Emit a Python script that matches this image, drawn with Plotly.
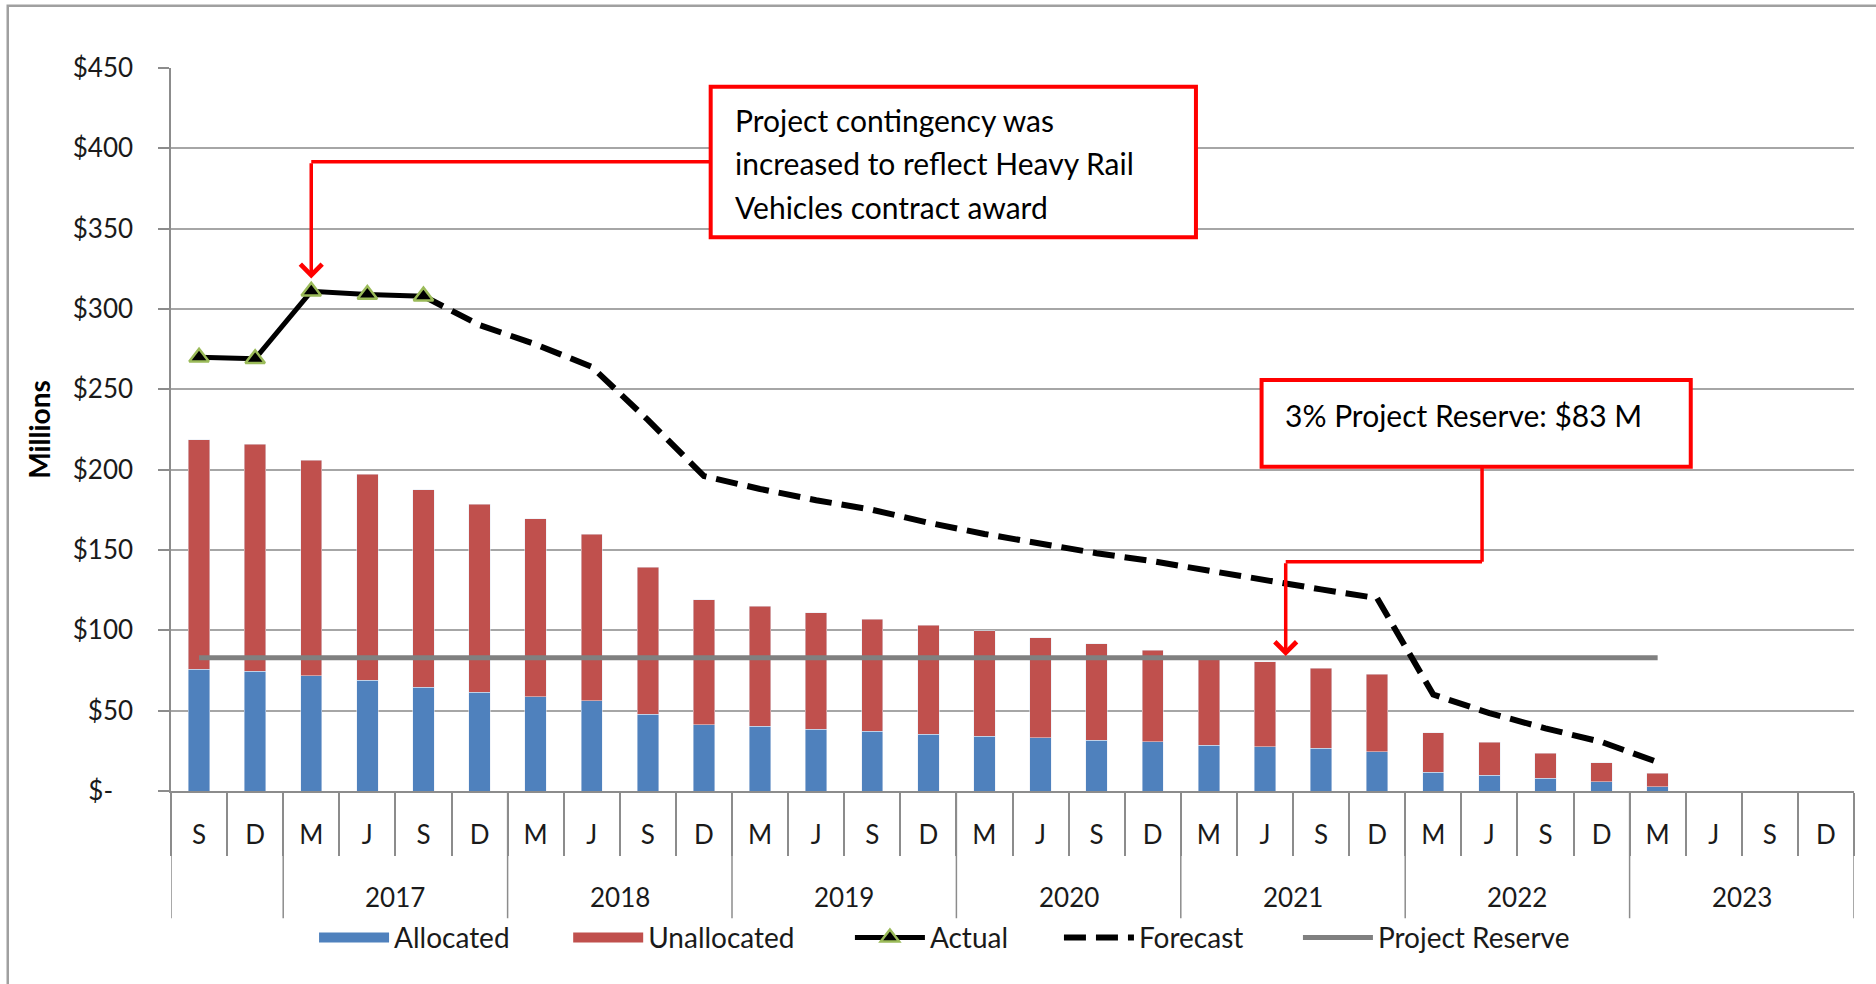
"""Project contingency drawdown: allocated / unallocated bars with actual and forecast lines."""

import plotly.graph_objects as go

# ---- data -----------------------------------------------------------------
months = ["S", "D"] + ["M", "J", "S", "D"] * 7
years = ["", ""] + ["2017"] * 4 + ["2018"] * 4 + ["2019"] * 4 + ["2020"] * 4 \
    + ["2021"] * 4 + ["2022"] * 4 + ["2023"] * 4

allocated = [75.7, 74.6, 71.6, 68.8, 64.6, 61.6, 58.6, 56.1, 47.9, 41.2,
             40.3, 38.5, 37.3, 35.4, 34.2, 33.3, 31.5, 30.6, 28.6, 27.6,
             26.6, 24.5, 11.8, 9.8, 7.9, 5.8, 2.7]
unallocated = [142.8, 141.1, 134.4, 128.4, 122.8, 116.8, 111.0, 103.8, 91.4, 77.7,
               74.8, 72.5, 69.7, 67.9, 65.4, 62.2, 60.0, 57.0, 55.4, 52.7,
               49.9, 48.1, 24.5, 20.5, 15.6, 11.8, 8.3]
actual = [270, 269, 311, 309, 308]
forecast_start = 4
forecast = [308, 290, 278, 264, 231, 196, 188, 181, 175, 167, 160, 154,
            148, 143, 137, 131, 125.5, 120, 60, 48.5, 39, 30.5, 18]
reserve = 83

y_ticks = [0, 50, 100, 150, 200, 250, 300, 350, 400, 450]
y_ticktext = ["$-\u00a0\u00a0\u00a0"] + [f"${v}" for v in y_ticks[1:]]

BLUE = "#4F81BD"
RED = "#C0504D"
GREEN = "#9BBB59"
GREY = "#808080"
AXIS = "#8C8C8C"
GRID = "#A6A6A6"
FONT = "Lato, 'Open Sans', sans-serif"

periods = [f"{y or '2016'} {m}" for y, m in zip(years, months)]
n_bars = len(allocated)

fig = go.Figure()
fig.add_trace(go.Bar(x=periods[:n_bars], y=allocated, name="Allocated",
                     marker_color=BLUE, showlegend=False))
fig.add_trace(go.Bar(x=periods[:n_bars], y=unallocated, name="Unallocated",
                     marker_color=RED, showlegend=False))
fig.add_trace(go.Scatter(x=periods[:n_bars], y=[reserve] * n_bars, mode="lines",
                         name="Project Reserve", line=dict(color=GREY, width=5),
                         legend="legend5"))
fig.add_trace(go.Scatter(x=periods[forecast_start:forecast_start + len(forecast)],
                         y=forecast, mode="lines", name="Forecast",
                         line=dict(color="black", width=6, dash="22px,10px"),
                         legend="legend4"))
fig.add_trace(go.Scatter(x=periods[:len(actual)], y=actual, mode="lines+markers",
                         name="Actual", line=dict(color="black", width=5),
                         marker=dict(symbol="triangle-up", size=17, color="black",
                                     line=dict(color=GREEN, width=2.5)),
                         legend="legend3"))
# wide legend swatches for the stacked bars
for name, color, leg in [("Allocated", BLUE, "legend"), ("Unallocated", RED, "legend2")]:
    fig.add_trace(go.Scatter(x=[None], y=[None], mode="lines", name=name,
                             line=dict(color=color, width=17), legend=leg))

# year dividers and labels below the month labels
bounds = [-0.5] + [i - 0.5 for i in range(1, len(years)) if years[i] != years[i - 1]] \
    + [len(years) - 0.5]
for b in bounds:
    fig.add_shape(type="line", xref="x", yref="paper", x0=b, x1=b, y0=0, y1=-0.176,
                  line=dict(color=AXIS, width=1.5))
for lo, hi in zip(bounds[:-1], bounds[1:]):
    label = years[int(lo + 0.5)]
    if label:
        fig.add_annotation(x=(lo + hi) / 2, y=-0.147, xref="x", yref="paper",
                           yanchor="middle", text=label, showarrow=False,
                           font=dict(size=26, color="#1a1a1a", family=FONT))

# callout 1: contingency increase
fig.add_shape(type="rect", x0=9.12, x1=17.77, y0=344.6, y1=438.3,
              line=dict(color="#FF0000", width=4), fillcolor="white")
for txt, yy in [("Project contingency was", 417.5),
                ("increased to reflect Heavy Rail", 390.8),
                ("Vehicles contract award", 363.4)]:
    fig.add_annotation(x=9.52, y=yy, text=txt, showarrow=False, xanchor="left",
                       font=dict(size=30, color="black", family=FONT))
fig.add_shape(type="line", x0=2, x1=9.12, y0=391.6, y1=391.6,
              line=dict(color="#FF0000", width=3.5))
fig.add_annotation(x=2, y=319, ax=2, ay=391.6, axref="x", ayref="y", text="",
                   showarrow=True, arrowhead=4, arrowsize=1.2, arrowwidth=3.5,
                   arrowcolor="#FF0000", standoff=0)

# callout 2: project reserve
fig.add_shape(type="rect", x0=18.94, x1=26.59, y0=201.8, y1=255.8,
              line=dict(color="#FF0000", width=4), fillcolor="white")
fig.add_annotation(x=19.33, y=234, text="3% Project Reserve: $83 M", showarrow=False,
                   xanchor="left", font=dict(size=30, color="black", family=FONT))
fig.add_shape(type="line", x0=22.87, x1=22.87, y0=201.8, y1=142.7,
              line=dict(color="#FF0000", width=3.5))
fig.add_shape(type="line", x0=19.37, x1=22.87, y0=142.7, y1=142.7,
              line=dict(color="#FF0000", width=3.5))
fig.add_annotation(x=19.37, y=84, ax=19.37, ay=142.7, axref="x", ayref="y", text="",
                   showarrow=True, arrowhead=4, arrowsize=1.2, arrowwidth=3.5,
                   arrowcolor="#FF0000", standoff=0)

# outer frame of the pasted picture
fig.add_shape(type="rect", xref="paper", yref="paper", x0=-0.097, x1=1.2,
              y0=-0.5, y1=1.086, line=dict(color="#A0A0A0", width=2.5), layer="below")

legend_style = dict(orientation="h", xanchor="left", y=-0.203, yanchor="middle",
                    font=dict(size=28), itemwidth=70, bgcolor="rgba(0,0,0,0)")
legend_x = {"legend": 0.085, "legend2": 0.236, "legend3": 0.4034,
            "legend4": 0.5276, "legend5": 0.6696}

fig.update_layout(
    width=1876, height=984,
    margin=dict(l=171, r=22, t=68, b=193),
    paper_bgcolor="white", plot_bgcolor="white",
    barmode="stack", bargap=0.62,
    font=dict(family=FONT, size=26, color="#1a1a1a"),
    xaxis=dict(type="category", categoryorder="array", categoryarray=periods,
               tickmode="array", tickvals=periods, ticktext=months,
               tickson="boundaries", ticks="outside", ticklen=63, tickwidth=1.5,
               tickcolor=AXIS, ticklabelstandoff=20,
               showline=True, linecolor=AXIS, linewidth=1.5, showgrid=False,
               range=[-0.5, len(periods) - 0.5]),
    yaxis=dict(range=[0, 450], tickmode="array", tickvals=y_ticks, ticktext=y_ticktext,
               ticks="outside", ticklen=11, tickwidth=1.5, tickcolor=AXIS,
               ticklabelstandoff=20,
               showgrid=True, gridcolor=GRID, gridwidth=1.5,
               showline=True, linecolor=AXIS, linewidth=1.5, zeroline=False,
               title=dict(text="<b>Millions</b>", standoff=14,
                          font=dict(size=28, family=FONT, color="black"))),
)
fig.update_layout({name: dict(legend_style, x=x) for name, x in legend_x.items()})

fig.write_html("out.html", config={"displayModeBar": False},
               post_script="document.body.style.margin='0';document.body.style.overflow='hidden';")
